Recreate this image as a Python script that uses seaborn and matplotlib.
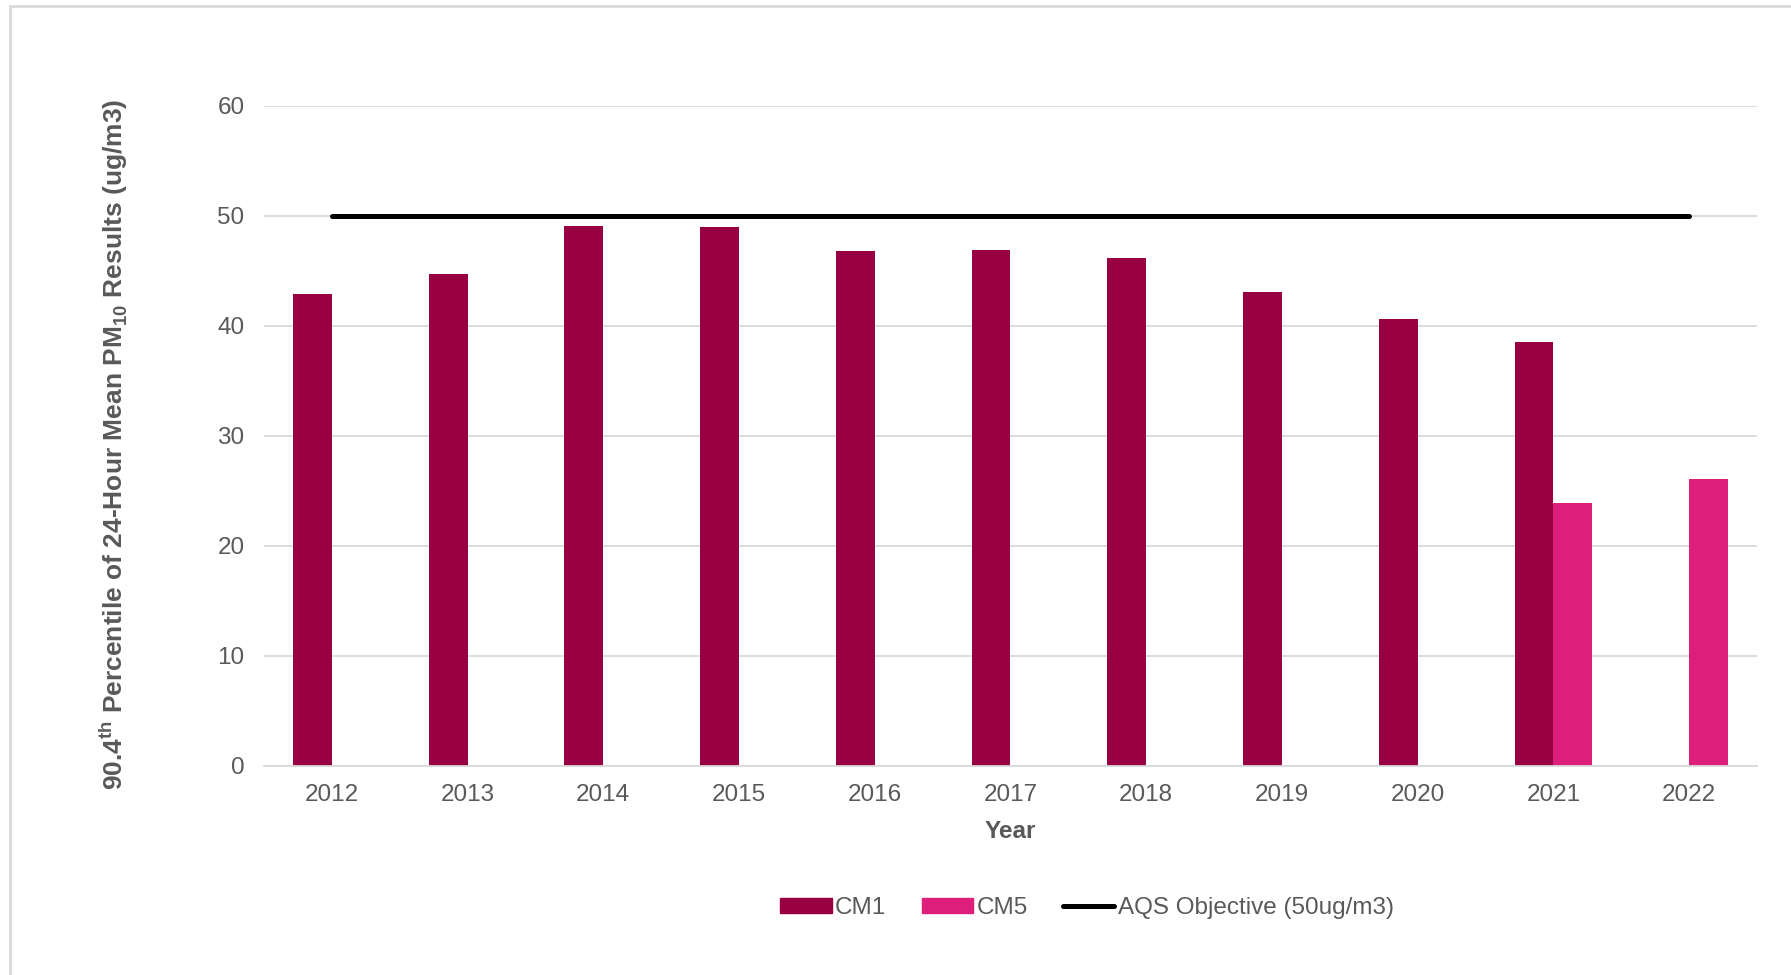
import numpy as np
import pandas as pd
import seaborn as sns
import matplotlib.pyplot as plt
from matplotlib.patches import Patch, Rectangle
from matplotlib.lines import Line2D

years = ["2012", "2013", "2014", "2015", "2016", "2017", "2018", "2019", "2020", "2021", "2022"]
cm1 = [42.9, 44.7, 49.1, 49.0, 46.8, 46.9, 46.2, 43.1, 40.6, 38.5, np.nan]
cm5 = [np.nan, np.nan, np.nan, np.nan, np.nan, np.nan, np.nan, np.nan, np.nan, 23.9, 26.1]
aqs = [50] * len(years)
sites = ["CM1", "CM5"]
colors = {"CM1": "#990041", "CM5": "#DD1E7B"}

sns.set_style("white")
plt.rcParams["font.family"] = ["Liberation Sans", "DejaVu Sans"]
plt.rcParams["mathtext.fontset"] = "custom"
plt.rcParams["mathtext.rm"] = "Liberation Sans"
plt.rcParams["mathtext.bf"] = "Liberation Sans:bold"

df = pd.DataFrame({"Year": years, "CM1": cm1, "CM5": cm5})
long = df.melt(id_vars="Year", var_name="Site", value_name="value").dropna()

fig = plt.figure(figsize=(17.91, 9.75), dpi=100)
ax = fig.add_axes([0.1474, 0.2144, 0.8336, 0.677])

sns.barplot(data=long, x="Year", y="value", hue="Site", order=years, hue_order=sites,
            palette=colors, width=0.572, saturation=1, errorbar=None, linewidth=0, ax=ax)
ax.plot(np.arange(len(years)), aqs, color="black", lw=3.6, solid_capstyle="round", zorder=5)

ax.set_ylim(0, 60)
ax.set_xlim(-0.5, len(years) - 0.5)
ax.set_yticks(range(0, 61, 10))
ax.yaxis.grid(True, color="#D9D9D9", lw=1.3)
ax.set_axisbelow(True)
for s in ["top", "right", "left"]:
    ax.spines[s].set_visible(False)
ax.spines["bottom"].set_color("#D9D9D9")
ax.spines["bottom"].set_linewidth(1.3)
ax.tick_params(axis="both", length=0, labelsize=17.5, labelcolor="#595959")
ax.tick_params(axis="y", pad=14)
ax.tick_params(axis="x", pad=13)

ax.set_xlabel("Year", fontsize=17.5, fontweight="bold", color="#595959", labelpad=10)
ax.set_ylabel(r"90.4$^{\mathbf{th}}$ Percentile of 24-Hour Mean PM$_{\mathbf{10}}$ Results (ug/m3)",
              fontsize=19, fontweight="bold", color="#595959", labelpad=0)
ax.yaxis.set_label_coords(-0.090, 0.488)

ax.get_legend().remove()
handles = [Patch(color=colors["CM1"]), Patch(color=colors["CM5"]),
           Line2D([0], [0], color="black", lw=3.6, solid_capstyle="round")]
fig.legend(handles, ["CM1", "CM5", "AQS Objective (50ug/m3)"], loc="center",
           bbox_to_anchor=(1087 / 1791, 1 - 908 / 975), ncol=3, frameon=False,
           fontsize=17.5, labelcolor="#595959", handlelength=2.1, handleheight=0.55,
           handletextpad=0.15, columnspacing=1.45)

fig.patches.append(Rectangle((10 / 1791, -0.05), 1.2, 1 - 6 / 975 + 0.05, transform=fig.transFigure,
                             fill=False, edgecolor="#D9D9D9", lw=2, zorder=0))

fig.savefig("out.png", dpi=100, facecolor="white")
